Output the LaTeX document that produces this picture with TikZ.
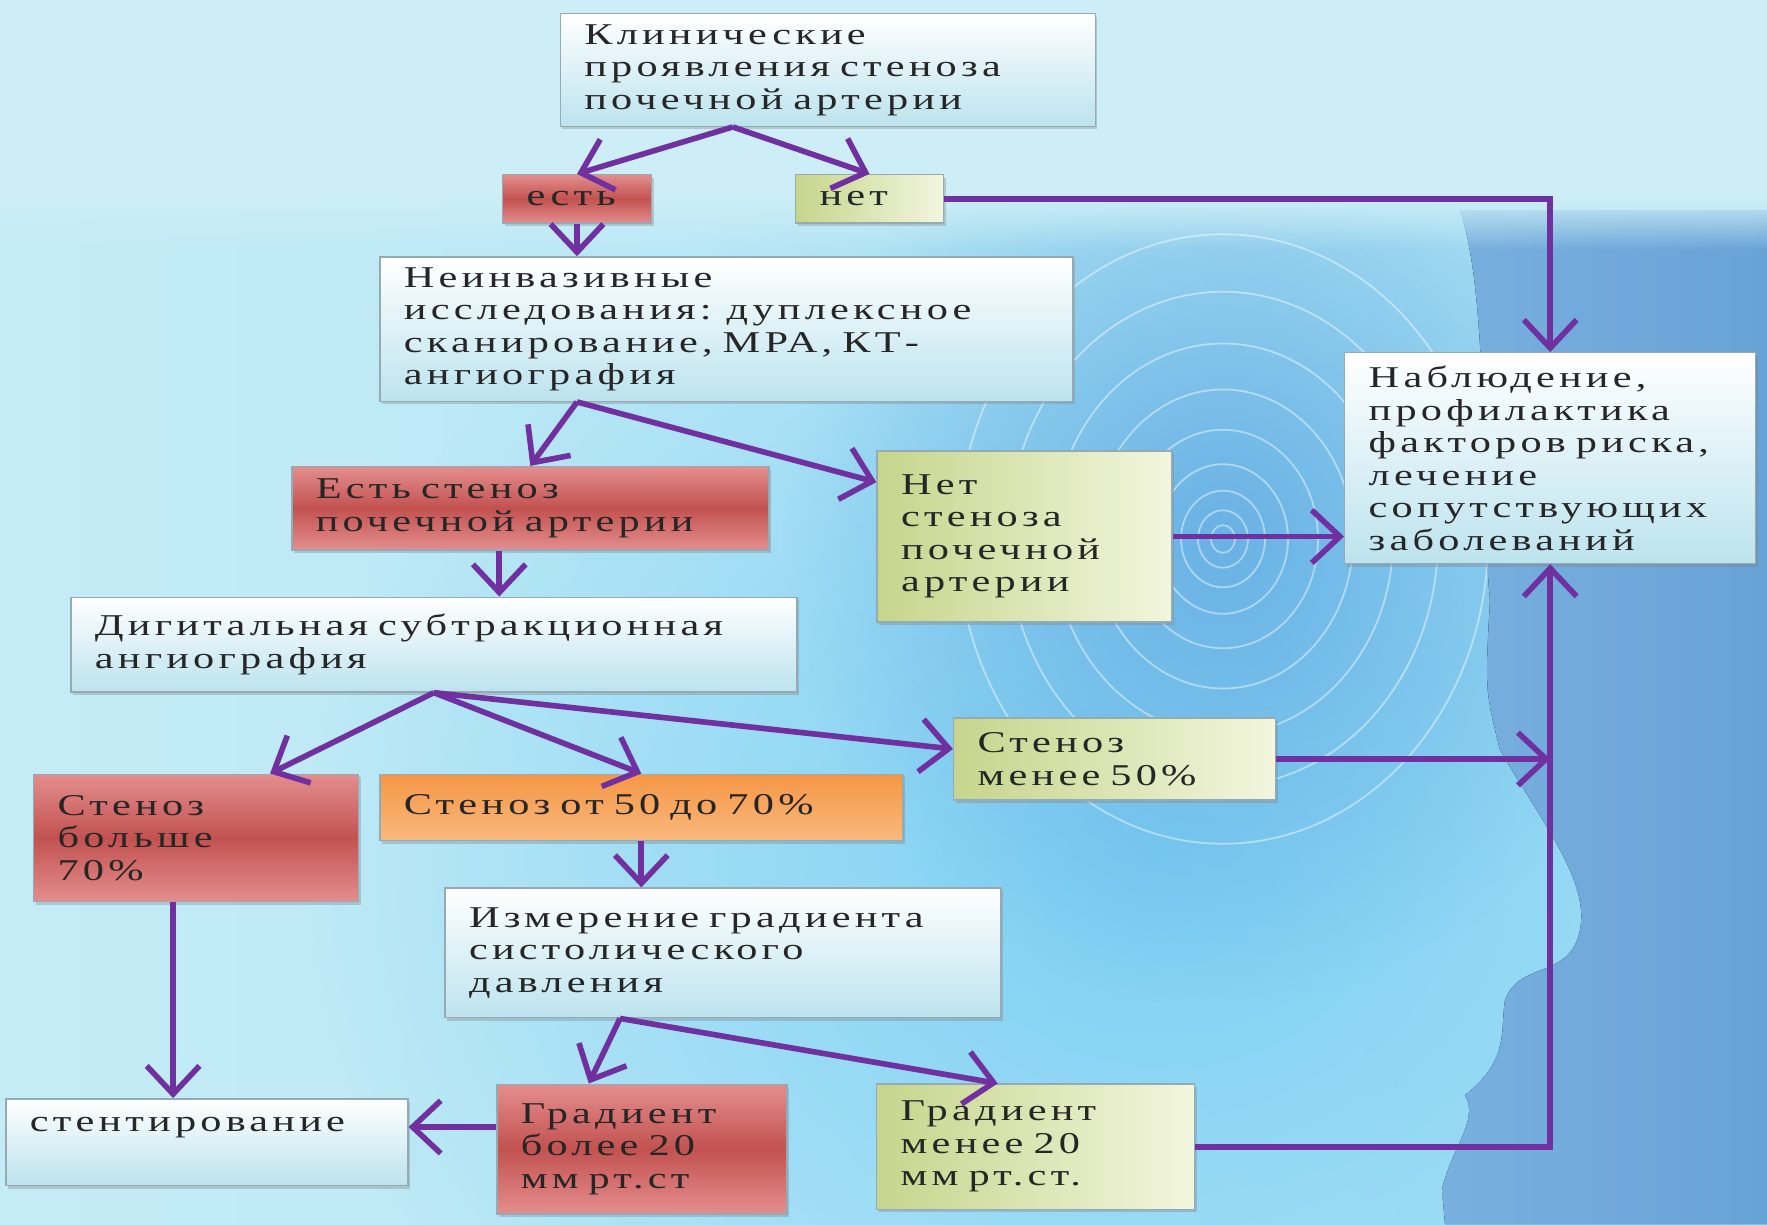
\documentclass[tikz,border=0pt]{standalone}
\usepackage{fontspec}
\newfontfamily\boxfont[FakeStretch=1.4,LetterSpace=14]{Liberation Serif}
\newcommand{\widespace}{\spaceskip=0.5em\relax}
\usetikzlibrary{arrows.meta,calc,backgrounds,shadows,fadings}
\definecolor{arrowpurple}{RGB}{112,48,160}
\definecolor{boxline}{RGB}{150,170,180}
\definecolor{lightbot}{RGB}{188,227,238}
\definecolor{redmid}{RGB}{194,82,80}
\definecolor{rededge}{RGB}{228,142,142}
\definecolor{greenleft}{RGB}{198,213,140}
\definecolor{greenright}{RGB}{242,246,222}
\definecolor{orangetop}{RGB}{245,150,70}
\definecolor{orangebot}{RGB}{250,185,125}
\definecolor{bgtop}{RGB}{205,238,246}
\definecolor{bgleft}{RGB}{196,236,246}
\definecolor{bgright}{RGB}{170,225,245}
\definecolor{skyblue}{RGB}{125,208,244}
\definecolor{coreblue}{RGB}{95,168,225}
\definecolor{headleft}{RGB}{120,176,223}
\definecolor{headright}{RGB}{104,163,214}
\tikzfading[name=softglow, inner color=transparent!0, outer color=transparent!100]

\begin{document}
\begin{tikzpicture}[
  box/.style={draw=boxline, line width=0.4pt, align=left, text=black!85,
              font=\boxfont\fontsize{8.6}{9.25}\selectfont\widespace,
              inner xsep=0.24cm, inner ysep=2pt,
              drop shadow={shadow xshift=0.6pt, shadow yshift=-0.9pt, opacity=0.35}},
  plain/.style={box, top color=white, bottom color=lightbot},
  redbox/.style={box, top color=rededge, bottom color=rededge, middle color=redmid},
  greenbox/.style={box, left color=greenleft, right color=greenright},
  orangebox/.style={box, top color=orangetop, bottom color=orangebot},
  arr/.style={draw=arrowpurple, line width=1.6pt,
              -{Straight Barb[length=8pt,width=15pt]}}
]
\useasboundingbox (0,0) rectangle (17.67,-12.24);

% ---- boxes
\node[plain, text width=4.87cm, minimum height=1.127cm] (klin) at (8.278,-0.699)
  {Клинические\\ проявления стеноза\\ почечной артерии};
\node[redbox, text width=1.01cm, minimum height=0.485cm] (est) at (5.770,-1.989) {есть};
\node[greenbox, text width=1.00cm, minimum height=0.485cm] (net) at (8.695,-1.989) {нет};
\node[plain, text width=6.45cm, minimum height=1.443cm] (neinv) at (7.264,-3.291)
  {Неинвазивные\\ исследования: дуплексное\\ сканирование, МРА, КТ-\\ ангиография};
\node[redbox, text width=4.29cm, minimum height=0.834cm] (stenyes) at (5.303,-5.083)
  {Есть стеноз\\ почечной артерии};
\node[greenbox, text width=2.47cm, minimum height=1.713cm] (stenno) at (10.245,-5.365)
  {Нет\\ стеноза\\ почечной\\ артерии};
\node[plain, text width=3.63cm, minimum height=2.107cm] (nabl) at (15.502,-4.581)
  {Наблюдение,\\ профилактика\\ факторов риска,\\ лечение\\ сопутствующих\\ заболеваний};
\node[plain, text width=6.78cm, minimum height=0.947cm] (dsa) at (4.339,-6.446)
  {Дигитальная субтракционная\\ ангиография};
\node[redbox, text width=2.77cm, minimum height=1.274cm] (sten70) at (1.961,-8.379)
  {Стеноз\\ больше\\ 70\%};
\node[orangebox, text width=4.75cm, minimum height=0.665cm] (sten5070) at (6.413,-8.075)
  {Стеноз от 50 до 70\%};
\node[greenbox, text width=2.74cm, minimum height=0.823cm] (sten50) at (11.146,-7.590)
  {Стеноз\\ менее 50\%};
\node[plain, text width=5.08cm, minimum height=1.296cm] (izm) at (7.230,-9.529)
  {Измерение градиента\\ систолического\\ давления};
\node[plain, text width=3.54cm, minimum height=0.868cm, text depth=0.35cm] (stent)
  at (2.068,-11.422) {стентирование};
\node[redbox, text width=2.42cm, minimum height=1.296cm] (gradhi) at (6.418,-11.490)
  {Градиент\\ более 20\\ мм рт.ст};
\node[greenbox, text width=2.70cm, minimum height=1.251cm] (gradlo) at (10.357,-11.467)
  {Градиент\\ менее 20\\ мм рт.ст.};

% ---- arrows
\coordinate (klinout) at ($(klin.south)+(-0.95,0)$);
\draw[arr] (klinout) -- (est.north);
\draw[arr] (klinout) -- (net.north);
\draw[arr] (est.south) -- (est.south |- neinv.north);
\draw[arr] (net.east) -| (nabl.north);
\coordinate (neinvout) at (est.south |- neinv.south);
\draw[arr] (neinvout) -- (stenyes.north);
\draw[arr] (neinvout) -- ($(stenno.north west)+(0,-0.32)$);
\coordinate (yesout) at ($(stenyes.south)+(-0.31,0)$);
\draw[arr] (yesout) -- (yesout |- dsa.north);
\draw[arr] (stenno.east) -- (stenno.east -| nabl.west);
\draw[arr] (dsa.south) -- ($(sten70.north)+(0.74,0)$);
\draw[arr] (dsa.south) -- (sten5070.north);
\draw[arr] (dsa.south) -- ($(sten50.west)+(0,0.1)$);
\draw[arr] (sten5070.south) -- (sten5070.south |- izm.north);
\draw[arr] (sten50.east) -- (sten50.east -| nabl.south);
\coordinate (hiout) at ($(sten70.south)+(-0.23,0)$);
\draw[arr] (hiout) -- (hiout |- stent.north);
\coordinate (izmout) at ($(izm.south)+(-1.03,0)$);
\draw[arr] (izmout) -- ($(gradhi.north)+(-0.53,0)$);
\draw[arr] (izmout) -- ($(gradlo.north)+(-0.38,0)$);
\coordinate (hileft) at ($(gradhi.west)+(0,0.22)$);
\draw[arr] (hileft) -- (hileft -| stent.east);
\draw[arr] (gradlo.east) -| (nabl.south);

% ---- backdrop
\begin{scope}[on background layer]
\clip (0,0) rectangle (17.67,-12.24);
\fill[left color=bgleft, right color=bgright] (0,0) rectangle (17.67,-12.24);
\fill[skyblue, path fading=softglow] (11.5,-8.6) ellipse (8.5 and 7.4);
\fill[coreblue, opacity=0.8, path fading=softglow] (12.23,-5.39) ellipse (4.4 and 4.7);
\fill[left color=headleft, right color=headright]
  (14.6,-2.1) .. controls (14.9,-3.0) and (14.8,-5.0) .. (14.9,-6.0)
  .. controls (14.85,-6.9) .. (15.0,-7.5)
  .. controls (15.4,-8.2) and (15.9,-8.8) .. (15.8,-9.3)
  .. controls (15.7,-9.8) and (15.2,-9.6) .. (15.05,-10.0)
  .. controls (15.0,-10.3) and (15.1,-10.6) .. (14.65,-10.95)
  .. controls (14.8,-11.2) and (14.5,-11.5) .. (14.42,-11.9)
  -- (14.45,-12.24) -- (17.67,-12.24) -- (17.67,-2.1) -- cycle;
\fill[bgtop] (0,0) rectangle (17.67,-1.95);
\fill[bgtop, path fading=south] (0,-1.95) rectangle (17.67,-2.5);
\foreach \r in {0.12,0.25,0.42,0.65,0.95,1.3,1.7,2.15,2.65}
  \draw[white, opacity=0.45, line width=0.5pt] (12.23,-5.39) ellipse ({\r} and {1.15*\r});
\end{scope}
\end{tikzpicture}
\end{document}
